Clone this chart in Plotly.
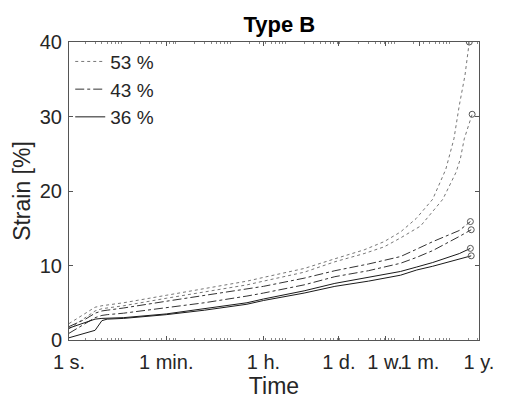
import plotly.graph_objects as go

# time in seconds (early, shared by all curves)
t_early = [1, 2, 3, 4, 5, 10, 60, 300, 1800, 3600, 2e4, 7.3e4]

# 53 % (dotted)
d53_a_t = t_early + [2.5e5, 5.8e5, 1.16e6, 2.24e6, 4.5e6, 7.8e6, 1.1e7, 1.38e7, 1.75e7, 2.1e7]
d53_a = [2.2, 3.6, 4.4, 4.6, 4.7, 5.0, 6.0, 6.9, 7.9, 8.4, 9.6, 10.9,
         12.1, 13.2, 14.5, 16.3, 18.9, 22.9, 27.0, 31.5, 35.5, 40.0]
d53_b_t = t_early + [2.5e5, 5.8e5, 1.16e6, 2.7e6, 6.9e6, 1.2e7, 1.44e7, 1.7e7, 2.37e7]
d53_b = [1.5, 3.0, 3.9, 4.2, 4.3, 4.6, 5.6, 6.5, 7.4, 7.9, 9.1, 10.5,
         11.6, 12.5, 13.7, 15.3, 18.9, 22.5, 24.3, 27.0, 30.3]

# 43 % (dash-dot)
d43_a_t = t_early + [3e5, 1.16e6, 2.3e6, 4.5e6, 1.38e7, 2.2e7]
d43_a = [1.8, 2.8, 3.6, 3.9, 4.0, 4.3, 5.2, 6.0, 6.8, 7.2, 8.3, 9.3,
         10.2, 11.2, 12.2, 13.2, 14.7, 15.9]
d43_b_t = t_early + [3e5, 1.16e6, 2.3e6, 4.5e6, 1.38e7, 2.28e7]
d43_b = [0.9, 2.2, 3.0, 3.3, 3.4, 3.6, 4.3, 5.0, 5.9, 6.3, 7.4, 8.5,
         9.3, 10.3, 11.1, 12.0, 13.9, 14.8]

# 36 % (solid)
d36_a_t = t_early + [3e5, 1.16e6, 2.3e6, 4.5e6, 1.38e7, 2.2e7]
d36_a = [1.6, 2.3, 2.8, 2.9, 2.9, 3.0, 3.5, 4.2, 5.0, 5.5, 6.6, 7.6,
         8.4, 9.2, 9.8, 10.4, 11.6, 12.3]
d36_b_t = t_early + [3e5, 1.16e6, 2.3e6, 4.5e6, 1.38e7, 2.28e7]
d36_b = [0.3, 0.9, 1.3, 2.6, 2.8, 2.9, 3.4, 4.0, 4.8, 5.3, 6.3, 7.2,
         7.9, 8.7, 9.4, 9.9, 10.9, 11.3]

tick_vals = [1, 60, 3600, 86400, 604800, 2.63e6, 3.156e7]
tick_text = ["1 s.", "1 min.", "1 h.", "1 d.", "1 w.", "1 m.", "1 y."]
y_ticks = [0, 10, 20, 30, 40]

series = [
    ("53 %", d53_a_t, d53_a, "dot", "#777777", True),
    ("53 %", d53_b_t, d53_b, "dot", "#777777", False),
    ("43 %", d43_a_t, d43_a, "dashdot", "#333333", True),
    ("43 %", d43_b_t, d43_b, "dashdot", "#333333", False),
    ("36 %", d36_a_t, d36_a, "solid", "#1a1a1a", True),
    ("36 %", d36_b_t, d36_b, "solid", "#1a1a1a", False),
]

fig = go.Figure()
for name, t, y, dash, col, show in series:
    fig.add_trace(go.Scatter(x=t, y=y, mode="lines", name=name, legendgroup=name,
                             showlegend=show, line=dict(color=col, dash=dash, width=1)))
for name, t, y, dash, col, show in series:
    fig.add_trace(go.Scatter(x=[t[-1]], y=[y[-1]], mode="markers", showlegend=False,
                             marker=dict(symbol="circle-open", size=6, color="#555555",
                                         line=dict(width=1))))

minor_vals = [m * 10 ** k for k in range(0, 8) for m in range(2, 10)]

FONT = "Liberation Sans, Arial, sans-serif"
# page body has an 8px default margin, so the figure is sized to fit the window
fig.update_layout(
    width=498, height=395,
    margin=dict(l=61, r=19, t=34, b=61),
    paper_bgcolor="white", plot_bgcolor="white",
    font=dict(family=FONT, size=20, color="#262626"),
    title=dict(text="<b>Type B</b>", x=0.545, xanchor="center", y=0.96, yanchor="middle",
               font=dict(family=FONT, size=22, color="black")),
    legend=dict(x=0.003, y=0.998, xanchor="left", yanchor="top", bgcolor="rgba(0,0,0,0)",
                font=dict(size=19, color="#262626"), tracegroupgap=0),
    showlegend=True,
)
fig.update_xaxes(type="log", range=[0, 7.5], tickvals=tick_vals, ticktext=tick_text,
                 tickangle=0,
                 ticks="inside", ticklen=4, tickcolor="#555555", showline=True,
                 linecolor="#555555", linewidth=1, mirror="ticks", showgrid=False,
                 zeroline=False, ticklabelstandoff=4,
                 minor=dict(ticks="inside", ticklen=2, tickcolor="#888888",
                            tickmode="array", tickvals=minor_vals, showgrid=False),
                 title=dict(text="Time", standoff=2, font=dict(size=23)),
                 tickfont=dict(size=20))
fig.update_yaxes(range=[0, 40], tickvals=y_ticks, ticks="inside", ticklen=4,
                 tickcolor="#555555", showline=True, linecolor="#555555", linewidth=1,
                 mirror="ticks", showgrid=False, zeroline=False, ticklabelstandoff=2,
                 title=dict(text="Strain [%]", standoff=2, font=dict(size=23)),
                 tickfont=dict(size=20))

fig.write_html("out.html")
